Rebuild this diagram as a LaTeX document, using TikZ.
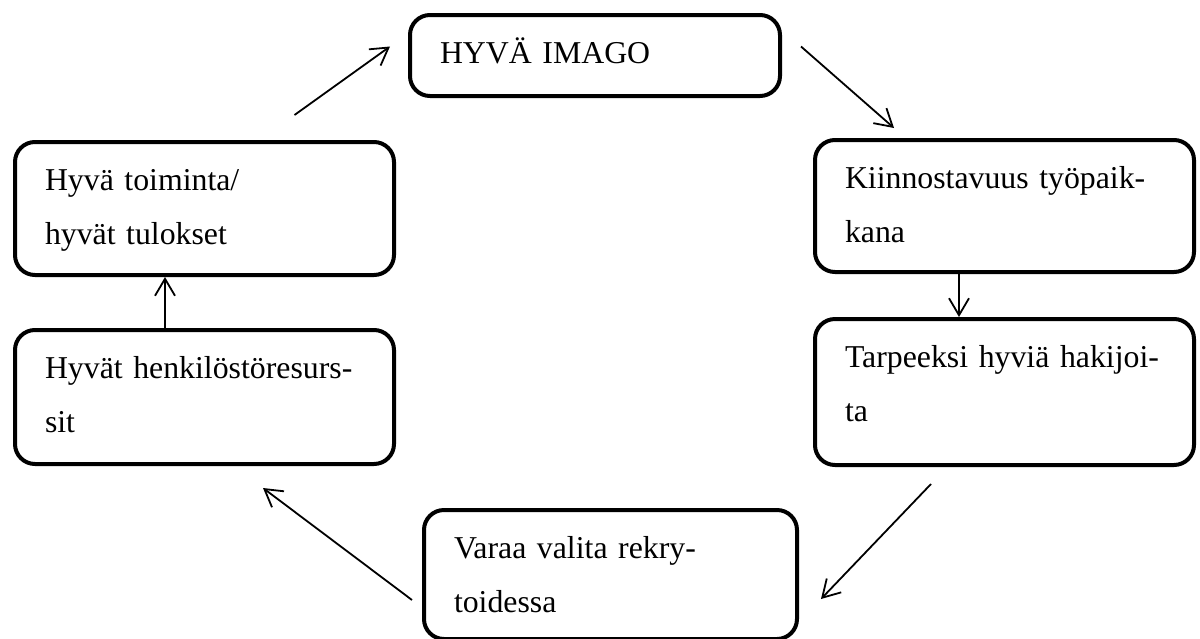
\documentclass[tikz,border=0pt]{standalone}
\usepackage{fontspec}
\setmainfont{Liberation Serif}
\usetikzlibrary{arrows.meta}
\tikzset{
	box/.style={draw, line width=2pt, rounded corners=10pt, anchor=north west, align=left,
		inner xsep=15pt, inner ysep=0pt, text height=24pt,
		font=\fontsize{15.9pt}{27pt}\selectfont},
	arr/.style={line width=0.9pt, -{Straight Barb[length=8.5pt,width=10pt]}}
}

\begin{document}
\begin{tikzpicture}[x=0.5pt, y=-0.5pt]
		\useasboundingbox (0, 0) rectangle (1200, 638);
		\node(imago)[box, text width=155pt, text depth=16.5pt] at (408, 13) {HYVÄ IMAGO};
		\node(kiinn)[box, text width=159.5pt, text depth=42pt] at (813, 138) {Kiinnostavuus työpaik-\\kana};
		\node(tarp)[box, text width=159.5pt, text depth=49pt] at (813, 317) {Tarpeeksi hyviä hakijoi-\\ta};
		\node(varaa)[box, text width=156.5pt, text depth=40.5pt] at (422, 508) {Varaa valita rekry-\\toidessa};
		\node(henk)[box, text width=159.5pt, text depth=43pt] at (13, 328) {Hyvät henkilöstöresurs-\\sit};
		\node(toim)[box, text width=159.5pt, text depth=42.5pt] at (13, 140) {Hyvä toiminta/\\hyvät tulokset};
		\draw[arr] ([shift={(90, -25)}]toim.north) -- ([shift={(-18, -9)}]imago.west);
		\draw[arr] ([shift={(19, -9)}]imago.east) -- ([shift={(-110.5, -10)}]kiinn.north);
		\draw[arr] ([shift={(-45.5, 0)}]kiinn.south) -- ([shift={(-45.5, 0)}]tarp.north);
		\draw[arr] ([shift={(-73.5, 17)}]tarp.south) -- ([shift={(22, 24.5)}]varaa.east);
		\draw[arr] ([shift={(-10, 25.5)}]varaa.west) -- ([shift={(58.5, 22)}]henk.south);
		\draw[arr] ([shift={(-39.5, 0)}]henk.north) -- ([shift={(-39.5, 0)}]toim.south);
\end{tikzpicture}
\end{document}
